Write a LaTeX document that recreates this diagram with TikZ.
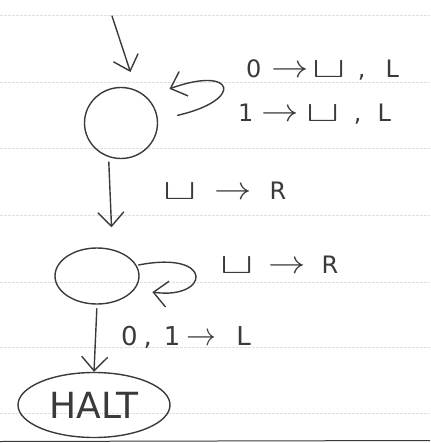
\documentclass[tikz,border=0pt]{standalone}
\usepackage{fontspec}
\setmainfont{DejaVu Sans}
\usetikzlibrary{arrows.meta,shapes.geometric}
\definecolor{pencil}{HTML}{3A3A3A}
% blank tape symbol and the "moves to" arrow, drawn wide like the handwriting
\newcommand{\blank}{\scalebox{2.0}[1.15]{$\sqcup$}}
\newcommand{\goes}{\scalebox{1.5}[1.3]{$\rightarrow$}}
\tikzset{
  state/.style={draw=pencil, line width=1.4pt, ellipse, inner sep=0pt},
  arr/.style={draw=pencil, line width=1.4pt, line cap=round,
              -{Straight Barb[length=14pt,width=26pt,line width=1.4pt]}},
  lab/.style={text=pencil, font=\fontsize{24}{26}\selectfont, inner sep=0pt,
              anchor=base west},
  rule/.style={draw=black!12, line width=0.6pt, dash pattern=on 3pt off 1pt}
}
\begin{document}
\begin{tikzpicture}[x=1pt,y=-1pt]
  \useasboundingbox (0,0) rectangle (430,443);
  % faint ruled lines of the notebook page
  \foreach \yy in {15,82,148,215,282,347,413}
    \draw[rule] (0,\yy) -- (430,\yy);
  \draw[pencil, line width=1pt] (0,441.5) -- (430,440.5);

  % states
  \node[state, minimum width=73pt, minimum height=71pt] (q0) at (121,123) {};
  \node[state, minimum width=84pt, minimum height=56pt] (q1) at (97,276) {};
  \node[state, minimum width=152pt, minimum height=65pt, text=pencil,
        font=\fontsize{36}{38}\selectfont] (halt) at (94,405) {HALT};

  % start arrow
  \coordinate (start) at (112,16);
  \draw[arr, shorten >=19pt] (start) -- (q0.65);

  % transitions
  \draw[arr, shorten <=20pt, shorten >=24pt]
    (q0.5) .. controls (245,100) and (235,65) .. (q0.45);
  \draw[arr, shorten <=5pt, shorten >=22pt] (q0.250) -- (q1.60);
  \draw[arr, shorten <=2pt, shorten >=18pt]
    (q1.15) .. controls (215,250) and (210,300) .. (q1.-20);
  \draw[arr, shorten <=4pt] (q1.south) -- (halt.north);

  % transition labels
  \node[lab] (l0) at (246,78)
    {0\hspace{10pt}\goes\hspace{4pt}\blank\hspace{12pt},\hspace{20pt}L};
  \node[lab] (l1) at (238,122)
    {1\hspace{8pt}\goes\hspace{8pt}\blank\hspace{14pt},\hspace{16pt}L};
  \node[lab] (l2) at (163,200) {\blank\hspace{18pt}\goes\hspace{18pt}R};
  \node[lab] (l3) at (220,273) {\blank\hspace{15pt}\goes\hspace{16pt}R};
  \node[lab, font=\fontsize{26}{28}\selectfont] (l4) at (121,345)
    {0\hspace{6pt},\hspace{12pt}1\hspace{6pt}\scalebox{1.2}[1.3]{$\rightarrow$}\hspace{20pt}L};
\end{tikzpicture}
\end{document}
